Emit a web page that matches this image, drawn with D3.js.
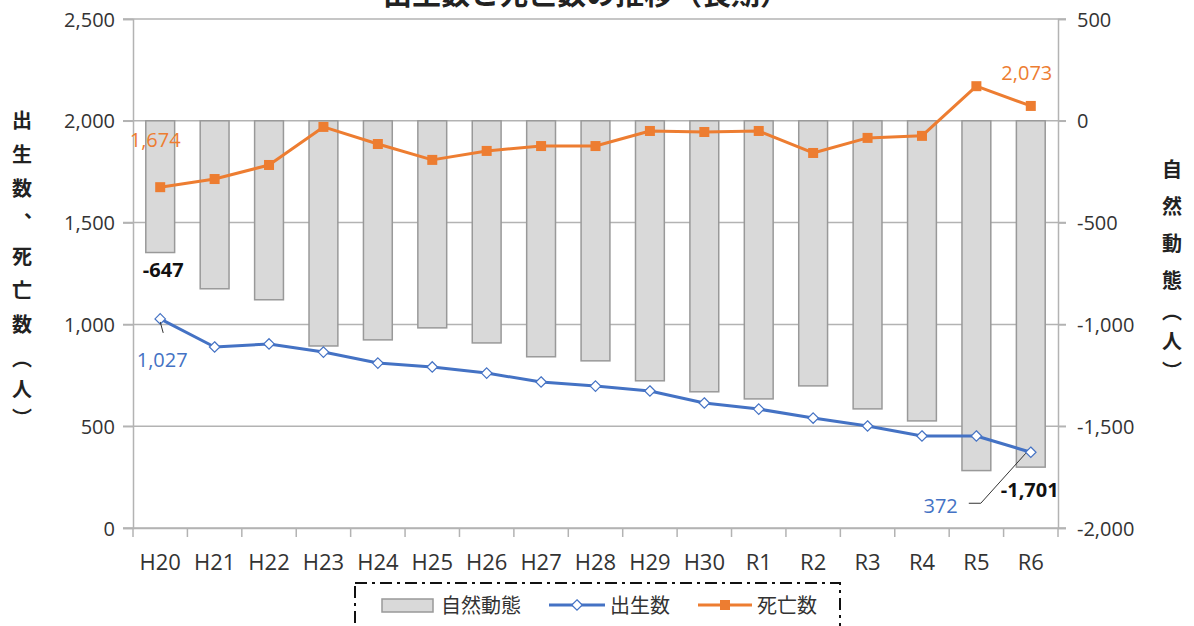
<!DOCTYPE html>
<html>
<head>
<meta charset="utf-8">
<script src="https://cdn.jsdelivr.net/npm/d3@7"></script>
<style>
  html, body { margin: 0; padding: 0; background: #fff; }
  svg { display: block; }
  text { font-family: "Open Sans", "Noto Sans CJK JP", sans-serif; }
</style>
</head>
<body>
<svg id="chart" width="1194" height="626"></svg>
<script>
// ---- data ----
const categories = ["H20","H21","H22","H23","H24","H25","H26","H27","H28","H29","H30","R1","R2","R3","R4","R5","R6"];
const births     = [1027, 889, 904, 864, 810, 791, 761, 717, 697, 673, 614, 584, 540, 501, 452, 452, 372];
const deaths     = [1674, 1714, 1783, 1970, 1886, 1808, 1852, 1876, 1876, 1950, 1945, 1950, 1842, 1916, 1926, 2170, 2073];
const natural    = [-647, -825, -879, -1106, -1076, -1017, -1091, -1159, -1179, -1277, -1331, -1366, -1302, -1415, -1474, -1718, -1701];
const leftTicks  = [0, 500, 1000, 1500, 2000, 2500];
const rightTicks = [-2000, -1500, -1000, -500, 0, 500];
const titleText  = "出生数と死亡数の推移（長期）";
const leftTitle  = ["出","生","数","︑","死","亡","数","︵","人","︶"];
const rightTitle = ["自","然","動","態","︵","人","︶"];
const legendNames = ["自然動態","出生数","死亡数"];

// ---- layout ----
const svg = d3.select("#chart");
const L = 133, R = 1058, T = 19, B = 528;
const blue = "#4472C4", orange = "#ED7D31", grid = "#b3b3b3", axisText = "#333";
const fmt = d3.formatLocale({decimal: ".", thousands: ",", grouping: [3], currency: ["", ""], minus: "-"}).format(",");

const x = d3.scaleBand().domain(categories).range([L, R]).paddingInner(0.47).paddingOuter(0.235);
const yL = d3.scaleLinear().domain([0, 2500]).range([B, T]);
const yR = d3.scaleLinear().domain([-2000, 500]).range([B, T]);
const cx = c => x(c) + x.bandwidth() / 2;

// title (cut off at top, as in the reference)
svg.append("text").attr("x", 586).attr("y", 5).attr("text-anchor", "middle")
  .attr("font-size", 29).attr("font-weight", "bold").attr("fill", "#222").text(titleText);

// gridlines
svg.append("g").selectAll("line").data(leftTicks).join("line")
  .attr("x1", L - 10).attr("x2", R + 8)
  .attr("y1", d => yL(d)).attr("y2", d => yL(d))
  .attr("stroke", grid).attr("stroke-width", 1.5);

// left axis
const gL = svg.append("g").attr("transform", `translate(${L},0)`)
  .call(d3.axisLeft(yL).tickValues(leftTicks).tickFormat(fmt).tickSize(10).tickPadding(8));
gL.select(".domain").attr("stroke", grid).attr("stroke-width", 1.5);
gL.selectAll(".tick line").attr("stroke", grid).attr("stroke-width", 1.5);
gL.selectAll(".tick text").attr("font-size", 20).attr("fill", axisText)
  .attr("font-family", "'Open Sans', sans-serif").attr("dy", "0.35em");

// right axis
const gR = svg.append("g").attr("transform", `translate(${R},0)`)
  .call(d3.axisRight(yR).tickValues(rightTicks).tickFormat(fmt).tickSize(8).tickPadding(11));
gR.select(".domain").attr("stroke", grid).attr("stroke-width", 1.5);
gR.selectAll(".tick line").attr("stroke", grid).attr("stroke-width", 1.5);
gR.selectAll(".tick text").attr("font-size", 20).attr("fill", axisText)
  .attr("font-family", "'Open Sans', sans-serif").attr("dy", "0.35em");

// bottom axis
const gB = svg.append("g").attr("transform", `translate(0,${B})`)
  .call(d3.axisBottom(x).tickSize(0).tickPadding(26));
gB.select(".domain").attr("stroke", grid).attr("stroke-width", 1.5);
gB.selectAll(".tick text").attr("font-size", 22).attr("fill", axisText)
  .attr("font-family", "'Open Sans', sans-serif");
// category boundary ticks
const step = x.step();
gB.append("g").selectAll("line").data(d3.range(categories.length + 1)).join("line")
  .attr("x1", i => L + i * step).attr("x2", i => L + i * step)
  .attr("y1", 0).attr("y2", 9).attr("stroke", grid).attr("stroke-width", 1.5);

// bars (natural change, right axis)
svg.append("g").selectAll("rect").data(categories).join("rect")
  .attr("x", c => x(c)).attr("width", x.bandwidth())
  .attr("y", yR(0)).attr("height", (c, i) => yR(natural[i]) - yR(0))
  .attr("fill", "#d9d9d9").attr("stroke", "#999").attr("stroke-width", 1.5);

// deaths line
const lineL = d3.line().x(d => cx(d.c)).y(d => yL(d.v));
const dData = categories.map((c, i) => ({c, v: deaths[i]}));
const bData = categories.map((c, i) => ({c, v: births[i]}));
svg.append("path").datum(dData).attr("d", lineL).attr("fill", "none")
  .attr("stroke", orange).attr("stroke-width", 3).attr("stroke-linejoin", "round");
svg.append("g").selectAll("rect").data(dData).join("rect")
  .attr("x", d => cx(d.c) - 5).attr("y", d => yL(d.v) - 5)
  .attr("width", 10).attr("height", 10).attr("fill", orange);

// births line
svg.append("path").datum(bData).attr("d", lineL).attr("fill", "none")
  .attr("stroke", blue).attr("stroke-width", 3).attr("stroke-linejoin", "round");
const diamond = d3.symbol().type(d3.symbolDiamond2).size(70);
svg.append("g").selectAll("path").data(bData).join("path")
  .attr("transform", d => `translate(${cx(d.c)},${yL(d.v)})`)
  .attr("d", diamond).attr("fill", "#fff").attr("stroke", blue).attr("stroke-width", 1.2);

// data labels
const first = 0, last = categories.length - 1;
const lab = (xx, yy, t, color, anchor, bold) => svg.append("text")
  .attr("x", xx).attr("y", yy).attr("text-anchor", anchor).attr("font-size", 20)
  .attr("font-weight", bold ? "bold" : "normal").attr("fill", color).text(t);

lab(cx(categories[first]) - 5, yL(deaths[first]) - 40, fmt(deaths[first]), orange, "middle");
lab(cx(categories[first]) + 3, yR(natural[first]) + 24, fmt(natural[first]), "#111", "middle", true);
lab(cx(categories[first]) + 2, yL(births[first]) + 48, fmt(births[first]), blue, "middle");
svg.append("line")
  .attr("x1", cx(categories[first])).attr("y1", yL(births[first]) + 3)
  .attr("x2", cx(categories[first]) + 3).attr("y2", yL(births[first]) + 14)
  .attr("stroke", "#333").attr("stroke-width", 1);

lab(cx(categories[last]) - 4, yL(deaths[last]) - 26, fmt(deaths[last]), orange, "middle");
lab(cx(categories[last]) - 73, yL(births[last]) + 61, fmt(births[last]), blue, "end");
lab(cx(categories[last]) - 30, yR(natural[last]) + 30, fmt(natural[last]), "#111", "start", true);
svg.append("path")
  .attr("d", `M${cx(categories[last]) - 62},${yL(births[last]) + 51} h12 L${cx(categories[last]) - 5},${yL(births[last]) + 1}`)
  .attr("fill", "none").attr("stroke", "#333").attr("stroke-width", 1);

// axis titles (vertical)
svg.append("g").selectAll("text").data(leftTitle).join("text")
  .attr("x", 22).attr("y", (d, i) => 121 + i * 34 - (i >= 8 ? 3 : 0) - (i === 9 ? 5 : 0))
  .attr("dy", "0.35em").attr("text-anchor", "middle").attr("font-size", 20)
  .attr("font-weight", "bold").attr("fill", "#222").text(d => d);
svg.append("g").selectAll("text").data(rightTitle).join("text")
  .attr("x", 1172).attr("y", (d, i) => i < 4 ? 170 + i * 37 : 282 + (i - 3) * 30)
  .attr("dy", "0.35em").attr("text-anchor", "middle").attr("font-size", 20)
  .attr("font-weight", "bold").attr("fill", "#222").text(d => d);

// legend
const lg = svg.append("g");
lg.append("rect").attr("x", 355).attr("y", 583).attr("width", 485).attr("height", 60)
  .attr("fill", "#fff").attr("stroke", "#111").attr("stroke-width", 2)
  .attr("stroke-dasharray", "12 5 3 5");
lg.append("rect").attr("x", 382).attr("y", 599).attr("width", 51).attr("height", 13)
  .attr("fill", "#d9d9d9").attr("stroke", "#999").attr("stroke-width", 1.5);
lg.append("text").attr("x", 441).attr("y", 613).attr("font-size", 20).attr("fill", axisText).text(legendNames[0]);
lg.append("line").attr("x1", 549).attr("x2", 605).attr("y1", 605).attr("y2", 605)
  .attr("stroke", blue).attr("stroke-width", 3);
lg.append("path").attr("transform", "translate(577,605)").attr("d", diamond)
  .attr("fill", "#fff").attr("stroke", blue).attr("stroke-width", 1.2);
lg.append("text").attr("x", 610).attr("y", 613).attr("font-size", 20).attr("fill", axisText).text(legendNames[1]);
lg.append("line").attr("x1", 698).attr("x2", 752).attr("y1", 605).attr("y2", 605)
  .attr("stroke", orange).attr("stroke-width", 3);
lg.append("rect").attr("x", 720).attr("y", 600).attr("width", 10).attr("height", 10).attr("fill", orange);
lg.append("text").attr("x", 757).attr("y", 613).attr("font-size", 20).attr("fill", axisText).text(legendNames[2]);
</script>
</body>
</html>
